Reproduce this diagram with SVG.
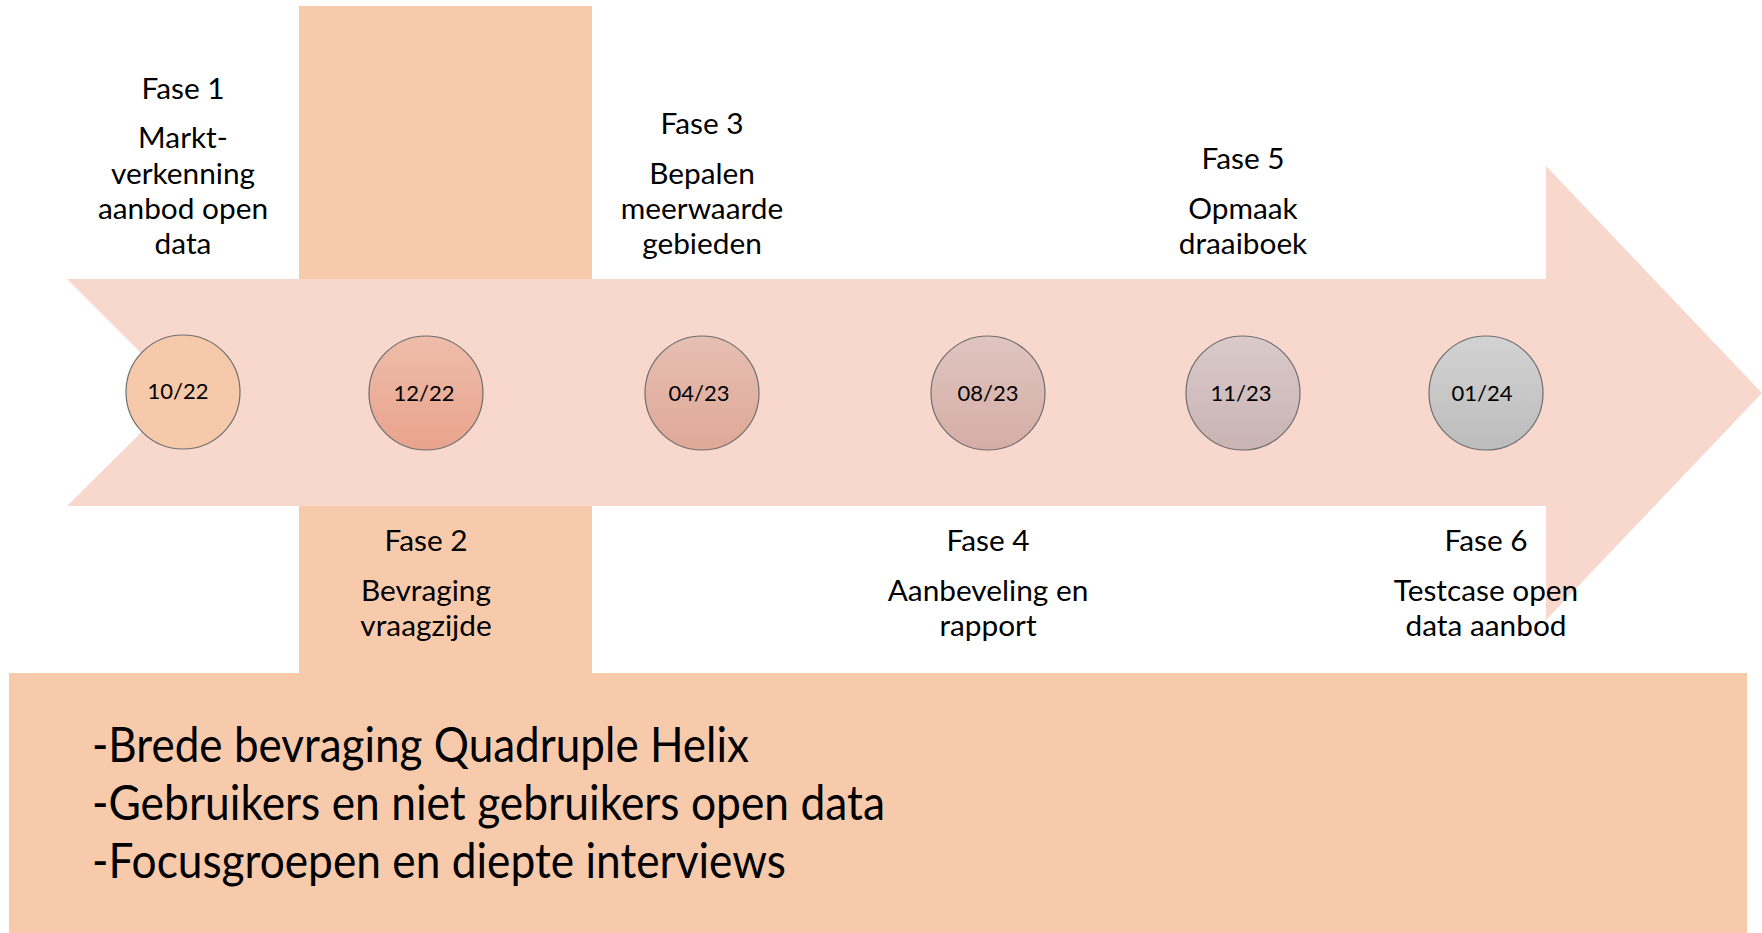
<svg xmlns="http://www.w3.org/2000/svg" width="1762" height="933" viewBox="0 0 1762 933">
<style>
.lbl{font-family:Lato,"Open Sans","Liberation Sans",sans-serif;font-size:29.8px;fill:#000;text-anchor:middle}
.date{font-family:Lato,"Open Sans","Liberation Sans",sans-serif;font-size:22px;fill:#000;text-anchor:middle}
.big{font-family:Lato,"Open Sans","Liberation Sans",sans-serif;font-size:48px;fill:#000}
.dot{stroke:#6e6e6e;stroke-width:1.2}
</style>
<defs>
<linearGradient id="g2" x1="0" y1="0" x2="0" y2="1"><stop offset="0" stop-color="#EEBDAA"/><stop offset="1" stop-color="#E9A38D"/></linearGradient>
<linearGradient id="g3" x1="0" y1="0" x2="0" y2="1"><stop offset="0" stop-color="#E6BFB3"/><stop offset="1" stop-color="#DFA897"/></linearGradient>
<linearGradient id="g4" x1="0" y1="0" x2="0" y2="1"><stop offset="0" stop-color="#E0C5C0"/><stop offset="1" stop-color="#D5ADA6"/></linearGradient>
<linearGradient id="g5" x1="0" y1="0" x2="0" y2="1"><stop offset="0" stop-color="#DACACA"/><stop offset="1" stop-color="#C9B3B3"/></linearGradient>
<linearGradient id="g6" x1="0" y1="0" x2="0" y2="1"><stop offset="0" stop-color="#D3D3D3"/><stop offset="1" stop-color="#BCBCBC"/></linearGradient>
</defs>
<rect width="1762" height="933" fill="#fff"/>
<g id="background">
<rect id="column" x="299" y="6" width="293" height="668" fill="#F7CAAC"/>
<rect id="bottom-box" x="9" y="673" width="1738" height="260" fill="#F7CAAC"/>
<polygon id="arrow" points="67,279 1546,279 1546,166 1762,393 1546,620 1546,506 67,506 181,393" fill="#F8D7CD"/>
</g>
<g id="connectors"/>
<g id="node-1022"><circle class="dot" cx="183" cy="392" r="57" fill="#F6C9AB"/><text class="date" x="178" y="399">10/22</text></g>
<g id="node-1222"><circle class="dot" cx="426" cy="393" r="57" fill="url(#g2)"/><text class="date" x="424" y="401">12/22</text></g>
<g id="node-0423"><circle class="dot" cx="702" cy="393" r="57" fill="url(#g3)"/><text class="date" x="699" y="401">04/23</text></g>
<g id="node-0823"><circle class="dot" cx="988" cy="393" r="57" fill="url(#g4)"/><text class="date" x="988" y="401">08/23</text></g>
<g id="node-1123"><circle class="dot" cx="1243" cy="393" r="57" fill="url(#g5)"/><text class="date" x="1241" y="401">11/23</text></g>
<g id="node-0124"><circle class="dot" cx="1486" cy="393" r="57" fill="url(#g6)"/><text class="date" x="1482" y="401">01/24</text></g>
<g id="fase-1"><text class="lbl" x="183" y="99">Fase 1</text><text class="lbl" x="183" y="148">Markt-</text><text class="lbl" x="183" y="184">verkenning</text><text class="lbl" x="183" y="219">aanbod open</text><text class="lbl" x="183" y="254">data</text></g>
<g id="fase-2"><text class="lbl" x="426" y="551">Fase 2</text><text class="lbl" x="426" y="601">Bevraging</text><text class="lbl" x="426" y="636">vraagzijde</text></g>
<g id="fase-3"><text class="lbl" x="702" y="134">Fase 3</text><text class="lbl" x="702" y="184">Bepalen</text><text class="lbl" x="702" y="219">meerwaarde</text><text class="lbl" x="702" y="254">gebieden</text></g>
<g id="fase-4"><text class="lbl" x="988" y="551">Fase 4</text><text class="lbl" x="988" y="601">Aanbeveling en</text><text class="lbl" x="988" y="636">rapport</text></g>
<g id="fase-5"><text class="lbl" x="1243" y="169">Fase 5</text><text class="lbl" x="1243" y="219">Opmaak</text><text class="lbl" x="1243" y="254">draaiboek</text></g>
<g id="fase-6"><text class="lbl" x="1486" y="551">Fase 6</text><text class="lbl" x="1486" y="601">Testcase open</text><text class="lbl" x="1486" y="636">data aanbod</text></g>
<g id="notes">
<text class="big" x="92" y="762" textLength="657" lengthAdjust="spacingAndGlyphs">-Brede bevraging Quadruple Helix</text>
<text class="big" x="92" y="820" textLength="793" lengthAdjust="spacingAndGlyphs">-Gebruikers en niet gebruikers open data</text>
<text class="big" x="92" y="878" textLength="694" lengthAdjust="spacingAndGlyphs">-Focusgroepen en diepte interviews</text>
</g>
</svg>
